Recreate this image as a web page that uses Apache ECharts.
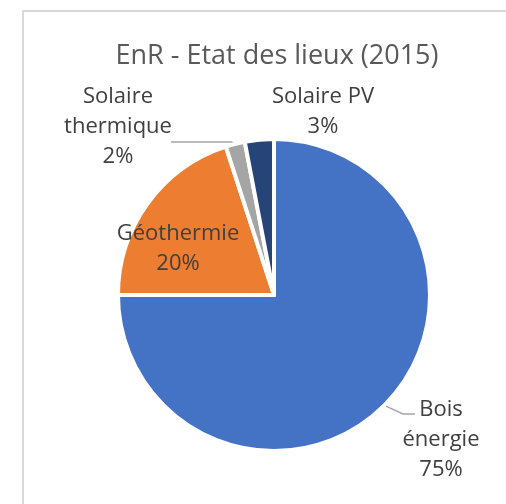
<!DOCTYPE html>
<html>
<head>
<meta charset="utf-8">
<script src="https://cdn.jsdelivr.net/npm/echarts@6/dist/echarts.min.js"></script>
<style>
  html, body { margin: 0; padding: 0; background: #fff; }
  #chart { width: 506px; height: 504px; }
</style>
</head>
<body>
<div id="chart"></div>
<script>
var categories = ['Bois\nénergie', 'Géothermie', 'Solaire\nthermique', 'Solaire PV'];
var values = [75, 20, 2, 3];
var colors = ['#4472C4', '#ED7D31', '#A5A5A5', '#264478'];

// where Excel put each label (centre of the text block)
var labelPos = [[441, 440], [178, 249], [118, 127], [323, 112]];

var chart = echarts.init(document.getElementById('chart'));

var data = categories.map(function (c, i) {
    var d = { name: c, value: values[i], itemStyle: { color: colors[i] } };
    if (i === 1 || i === 3) d.labelLine = { show: false };
    return d;
});

var option = {
    animation: false,
    backgroundColor: '#fff',
    graphic: [{
        type: 'rect',
        shape: { x: 23, y: 11, width: 520, height: 520 },
        style: { fill: 'none', stroke: '#d9d9d9', lineWidth: 2 },
        silent: true
    }],
    title: {
        text: 'EnR - Etat des lieux (2015)',
        left: 272,
        top: 38,
        textAlign: 'center',
        textStyle: {
            fontFamily: 'Open Sans',
            fontSize: 27,
            fontWeight: 'normal',
            color: '#595959'
        }
    },
    series: [{
        type: 'pie',
        center: [274, 295],
        radius: 156,
        startAngle: 90,
        clockwise: true,
        data: data,
        itemStyle: { borderColor: '#fff', borderWidth: 4 },
        label: {
            show: true,
            formatter: function (p) { return p.name + '\n' + Math.round(p.percent) + '%'; },
            fontFamily: 'Open Sans',
            fontSize: 22,
            lineHeight: 30,
            color: '#404040',
            align: 'center',
            overflow: 'none',
            width: 200
        },
        labelLine: {
            show: true,
            length: 10,
            length2: 10,
            lineStyle: { color: '#a6a6a6', width: 1.5 }
        },
        labelLayout: function (p) {
            var pos = labelPos[p.dataIndex];
            var res = { x: pos[0], y: pos[1], align: 'center', verticalAlign: 'middle' };
            var pts = p.labelLinePoints;
            if (pts && p.dataIndex === 0) {
                var s = pts[0];
                res.labelLinePoints = [s, [403, 414], [415, 414]];
            } else if (pts && p.dataIndex === 2) {
                var s2 = pts[0];
                res.labelLinePoints = [s2, [s2[0] - 4, 142], [171, 142]];
            }
            return res;
        }
    }]
};

chart.setOption(option);
</script>
</body>
</html>
